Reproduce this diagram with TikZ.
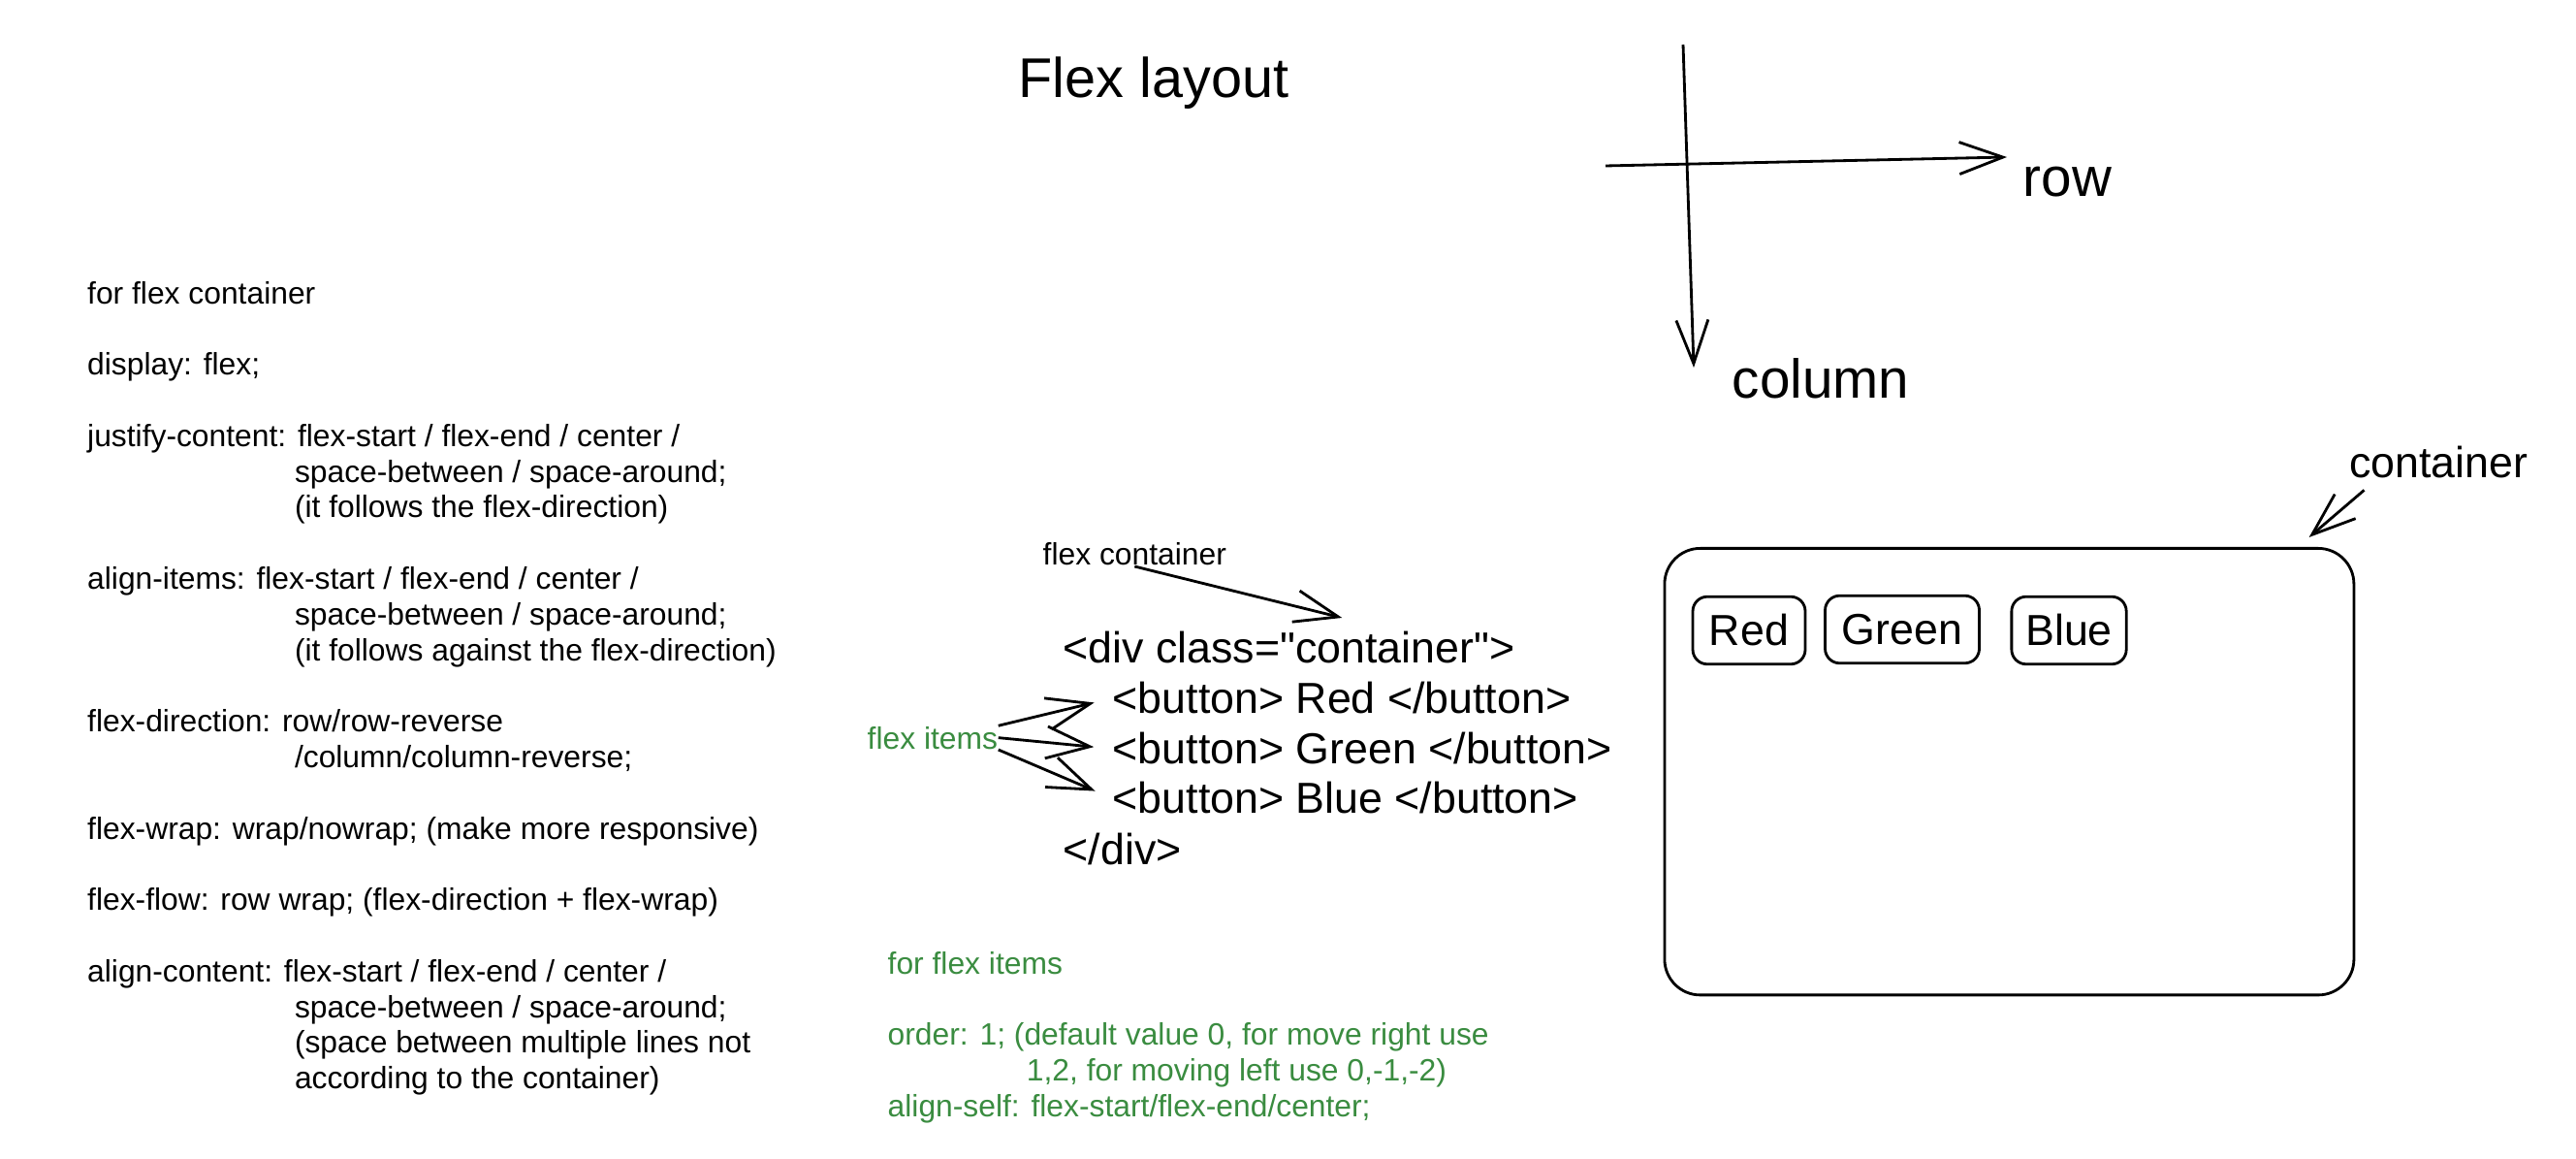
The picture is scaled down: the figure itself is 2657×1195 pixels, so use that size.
\documentclass[tikz,border=0pt]{standalone}
\usepackage{fontspec}
\setmainfont{Liberation Sans}
\usetikzlibrary{arrows.meta}
\definecolor{itemGreen}{HTML}{3A8C40}
\tikzset{
  sketchArrow/.style={line width=0.8pt, -{Straight Barb[length=4.5mm,width=3.3mm]}},
  smallText/.style={inner sep=0pt, font=\fontsize{9.05pt}{10.47pt}\selectfont},
  codeText/.style={inner sep=0pt, font=\fontsize{12.73pt}{14.72pt}\selectfont},
  bigText/.style={inner sep=0pt, font=\fontsize{16.1pt}{18.5pt}\selectfont},
  buttonBox/.style={draw, line width=0.8pt, rounded corners=1.5mm, inner sep=0pt,
    minimum height=6.96mm, font=\fontsize{12.73pt}{14.72pt}\selectfont},
}

\begin{document}
\begin{tikzpicture}[x=0.1mm, y=-0.1mm]
            \useasboundingbox (0,0) rectangle (2657,1195);

            % title
            \node[bigText, font=\fontsize{16.4pt}{18.8pt}\selectfont, anchor=base west] (title) at (1050,101) {Flex layout};

            % container properties
            \node[smallText, anchor=north west, align=left] (containerProps) at (89.5,289.4) {%
                for flex container\\[10.47pt]
                display: flex;\\[10.47pt]
                justify-content: flex-start / flex-end / center /\\
                \hspace*{21.38mm}space-between / space-around;\\
                \hspace*{21.38mm}(it follows the flex-direction)\\[10.47pt]
                align-items: flex-start / flex-end / center /\\
                \hspace*{21.38mm}space-between / space-around;\\
                \hspace*{21.38mm}(it follows against the flex-direction)\\[10.47pt]
                flex-direction: row/row-reverse\\
                \hspace*{21.38mm}/column/column-reverse;\\[10.47pt]
                flex-wrap: wrap/nowrap; (make more responsive)\\[10.47pt]
                flex-flow: row wrap; (flex-direction + flex-wrap)\\[10.47pt]
                align-content: flex-start / flex-end / center /\\
                \hspace*{21.38mm}space-between / space-around;\\
                \hspace*{21.38mm}(space between multiple lines not\\
                \hspace*{21.38mm}according to the container)};

            % axes
            \coordinate (rowStart) at (1656,171);
            \coordinate (rowEnd) at (2070,162);
            \coordinate (colStart) at (1736,46);
            \coordinate (colEnd) at (1747,379);
            \draw[sketchArrow] (rowStart) -- (rowEnd);
            \draw[sketchArrow] (colStart) -- (colEnd);
            \node[bigText, anchor=base west] (rowLabel) at (2086,203) {row};
            \node[bigText, anchor=base west] (colLabel) at (1786,411) {column};

            % markup
            \node[smallText, anchor=base west] (flexCont) at (1075,583) {flex container};
            \node[codeText, anchor=base west] (divOpen) at (1096,684) {<div class=\textquotedbl container\textquotedbl>};
            \node[codeText, anchor=base west] (btnRed) at (1147,736) {<button> Red </button>};
            \node[codeText, anchor=base west] (btnGreen) at (1147,788) {<button> Green </button>};
            \node[codeText, anchor=base west] (btnBlue) at (1147,839) {<button> Blue </button>};
            \node[codeText, anchor=base west] (divClose) at (1096,891) {</div>};
            \node[smallText, text=itemGreen, anchor=base west] (flexItems) at (894,772) {flex items};

            \draw[sketchArrow] (flexCont.south) -- ([shift={(5.47mm,1.39mm)}]divOpen.north);
            \draw[sketchArrow, shorten >=1.89mm] (flexItems.north east) -- (btnRed.west);
            \draw[sketchArrow, shorten >=1.89mm] (flexItems.east) -- (btnGreen.west);
            \draw[sketchArrow, shorten >=1.89mm] (flexItems.south east) -- (btnBlue.west);

            % item properties
            \node[smallText, text=itemGreen, anchor=north west, align=left] (itemProps) at (915,980.6) {%
                for flex items\\[10.47pt]
                order: 1; (default value 0, for move right use\\
                \hspace*{14.32mm}1,2, for moving left use 0,-1,-2)\\
                align-self: flex-start/flex-end/center;};

            % container box
            \node[draw, line width=0.8pt, rounded corners=3.68mm, minimum width=71.1mm,
                minimum height=46.05mm, anchor=north west] (box) at (1715.5,564) {};
            \node[buttonBox, minimum width=11.6mm] (red) at (1804,650) {Red};
            \node[buttonBox, minimum width=15.9mm] (green) at (1962,649) {Green};
            \node[buttonBox, minimum width=11.83mm] (blue) at (2134,650) {Blue};
            \node[codeText, anchor=base west] (boxLabel) at (2422.6,492.3) {container};
            \draw[sketchArrow] ([shift={(1.59mm,-1.19mm)}]boxLabel.south west) -- ([shift={(-4.77mm,1mm)}]box.north east);

        \end{tikzpicture}
\end{document}
